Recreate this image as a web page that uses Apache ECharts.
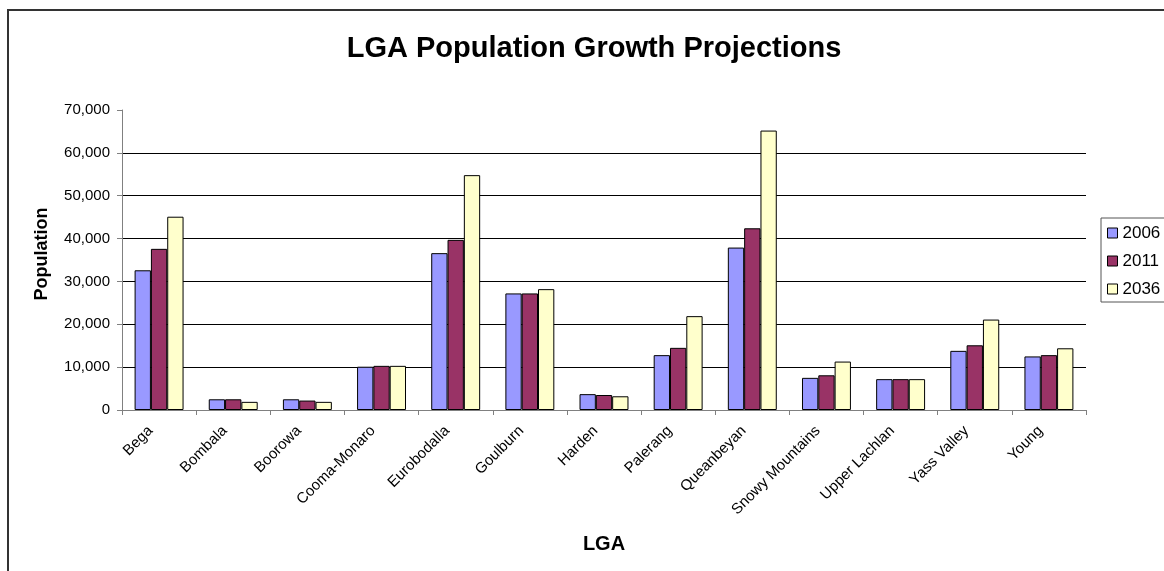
<!DOCTYPE html>
<html>
<head>
<meta charset="utf-8">
<script src="https://cdn.jsdelivr.net/npm/echarts@6/dist/echarts.min.js"></script>
<style>
html,body{margin:0;padding:0;background:#fff;}
#chart{width:1164px;height:571px;}
</style>
</head>
<body>
<div id="chart"></div>
<script>
var categories = ['Bega','Bombala','Boorowa','Cooma-Monaro','Eurobodalla','Goulburn','Harden','Palerang','Queanbeyan','Snowy Mountains','Upper Lachlan','Yass Valley','Young'];
var seriesNames = ['2006','2011','2036'];
var values2006 = [32600, 2500, 2500, 10100, 36600, 27200, 3700, 12800, 37900, 7500, 7200, 13800, 12500];
var values2011 = [37600, 2500, 2200, 10300, 39700, 27200, 3500, 14500, 42400, 8100, 7200, 15100, 12800];
var values2036 = [45100, 1900, 1900, 10300, 54800, 28200, 3200, 21900, 65200, 11300, 7200, 21100, 14400];
var yTicks = [0, 10000, 20000, 30000, 40000, 50000, 60000, 70000];
var colors = ['#9999FF', '#993366', '#FFFFCC'];

function fmt(v) {
  return String(v).replace(/\B(?=(\d{3})+(?!\d))/g, ',');
}

var FONT = '"Liberation Sans", Arial, sans-serif';
var chart = echarts.init(document.getElementById('chart'), null, {renderer: 'canvas'});
var allValues = [values2006, values2011, values2036];

var option = {
  animation: false,
  backgroundColor: '#ffffff',
  textStyle: {fontFamily: FONT},
  title: {
    text: 'LGA Population Growth Projections',
    left: 589,
    top: 29,
    textAlign: 'center',
    textStyle: {fontFamily: FONT, fontSize: 29, fontWeight: 'bold', color: '#000'}
  },
  legend: {
    orient: 'vertical',
    left: 1101,
    top: 218,
    data: seriesNames,
    icon: 'rect',
    itemWidth: 10,
    itemHeight: 10,
    itemGap: 10,
    padding: [6, 12, 4, 6],
    borderColor: '#555',
    borderWidth: 1,
    backgroundColor: '#fff',
    itemStyle: {borderColor: '#000', borderWidth: 1},
    textStyle: {fontFamily: FONT, fontSize: 17, color: '#000', lineHeight: 18}
  },
  grid: {left: 122, right: 78, top: 110, bottom: 161, containLabel: false},
  xAxis: {
    type: 'category',
    data: categories,
    name: 'LGA',
    nameLocation: 'middle',
    nameGap: 124,
    nameTextStyle: {fontFamily: FONT, fontSize: 20, fontWeight: 'bold', color: '#000'},
    axisLine: {lineStyle: {color: '#808080', width: 1}},
    axisTick: {show: true, length: 5, interval: 0, lineStyle: {color: '#808080'}},
    axisLabel: {interval: 0, rotate: 45, margin: 10, padding: [0, 12, 0, 0], fontFamily: FONT, fontSize: 15, color: '#000'},
    splitLine: {show: false}
  },
  yAxis: {
    type: 'value',
    min: yTicks[0],
    max: yTicks[yTicks.length - 1],
    interval: yTicks[1] - yTicks[0],
    name: 'Population',
    nameLocation: 'middle',
    nameGap: 71,
    nameRotate: 90,
    nameTextStyle: {fontFamily: FONT, fontSize: 18, fontWeight: 'bold', color: '#000', padding: [0, 0, 0, 12]},
    axisLine: {show: true, lineStyle: {color: '#808080', width: 1}},
    axisTick: {show: true, length: 5, lineStyle: {color: '#808080'}},
    axisLabel: {margin: 12, fontFamily: FONT, fontSize: 15, color: '#000', formatter: function (v) { return fmt(v); }},
    splitLine: {show: true, showMinLine: false, showMaxLine: false, lineStyle: {color: '#000', width: 1}}
  },
  series: seriesNames.map(function (name, i) {
    return {
      name: name,
      type: 'bar',
      data: allValues[i],
      barGap: '0%',
      barCategoryGap: '34%',
      itemStyle: {color: colors[i], borderColor: '#000', borderWidth: 1}
    };
  }),
  graphic: [{
    type: 'rect',
    shape: {x: 8, y: 10, width: 1300, height: 700},
    style: {fill: 'none', stroke: '#333', lineWidth: 2},
    silent: true,
    z: 100
  }]
};
chart.setOption(option);
</script>
</body>
</html>
